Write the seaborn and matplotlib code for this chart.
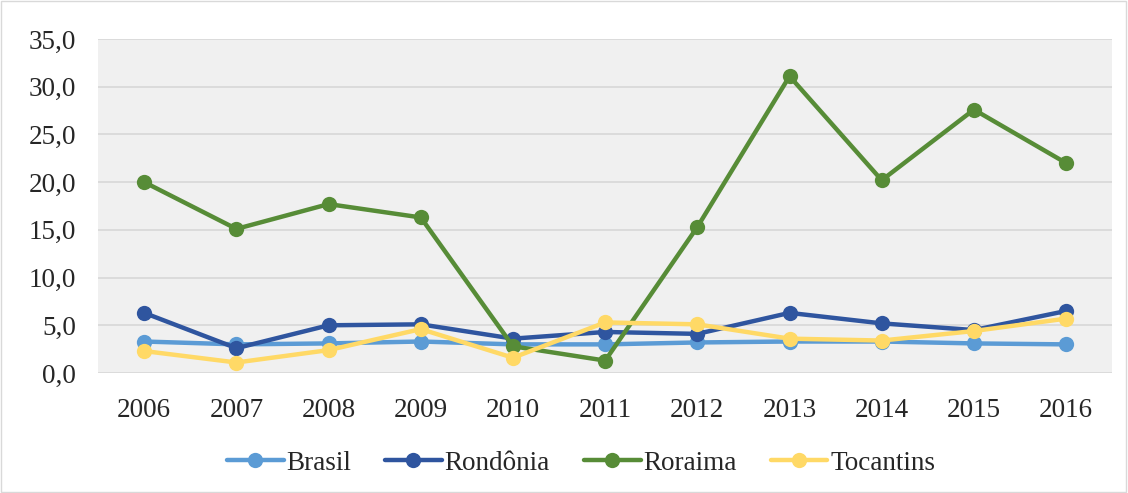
import matplotlib
matplotlib.use("Agg")
import matplotlib.pyplot as plt
import seaborn as sns
import pandas as pd
from matplotlib.patches import Rectangle
from matplotlib.ticker import FuncFormatter, MultipleLocator

# ── Data ───────────────────────────────────────
years = [2006, 2007, 2008, 2009, 2010, 2011, 2012, 2013, 2014, 2015, 2016]
brasil = [3.3, 3.0, 3.1, 3.3, 3.0, 3.0, 3.2, 3.3, 3.3, 3.1, 3.0]
rondonia = [6.3, 2.6, 5.0, 5.1, 3.6, 4.3, 4.1, 6.3, 5.2, 4.5, 6.5]
roraima = [20.0, 15.1, 17.7, 16.3, 2.8, 1.3, 15.3, 31.1, 20.2, 27.6, 22.0]
tocantins = [2.3, 1.1, 2.4, 4.6, 1.6, 5.3, 5.1, 3.6, 3.4, 4.4, 5.7]

series = {"Brasil": brasil, "Rondônia": rondonia,
          "Roraima": roraima, "Tocantins": tocantins}
colors = {"Brasil": "#5b9bd5", "Rondônia": "#2f559f",
          "Roraima": "#578c37", "Tocantins": "#ffd966"}

df = pd.concat([pd.DataFrame({"ano": years, "valor": v, "uf": k})
                for k, v in series.items()], ignore_index=True)

# ── Plot ───────────────────────────────────────
sns.set_style("white")
plt.rcParams["font.family"] = ["Liberation Serif", "DejaVu Serif"]

fig = plt.figure(figsize=(11.28, 4.93), dpi=100)
ax = fig.add_axes([0.087, 0.2434, 0.899, 0.6775])
ax.set_facecolor("#f0f0f0")

sns.lineplot(data=df, x="ano", y="valor", hue="uf", palette=colors,
             marker="o", markersize=11, markeredgewidth=0, linewidth=3.2,
             ax=ax, legend=False)

ax.set_xlim(2005.5, 2016.5)
ax.set_ylim(0, 35)
ax.set_xticks(years)
ax.yaxis.set_major_locator(MultipleLocator(5))
ax.yaxis.set_major_formatter(FuncFormatter(lambda v, _: f"{v:.1f}".replace(".", ",")))
ax.grid(axis="y", color="#d9d9d9", linewidth=1.3)
ax.set_axisbelow(True)
for s in ax.spines.values():
    s.set_visible(False)
ax.tick_params(axis="both", length=0, labelsize=19.5)
ax.tick_params(axis="x", pad=18)
ax.tick_params(axis="y", pad=16)
ax.set_xlabel("")
ax.set_ylabel("")

handles = [plt.Line2D([0], [0], color=c, lw=3.2, marker="o", markersize=11,
                      markeredgewidth=0) for c in colors.values()]
fig.legend(handles, list(colors.keys()), loc="center", ncol=4,
           bbox_to_anchor=(0.515, 0.06), frameon=False, fontsize=19.5,
           handlelength=2.1, handletextpad=0.1, columnspacing=1.25)

fig.patches.append(Rectangle((0.001, 0.002), 0.997, 0.995, transform=fig.transFigure,
                             fill=False, edgecolor="#d9d9d9", linewidth=1))

fig.savefig("out.png", dpi=100)
